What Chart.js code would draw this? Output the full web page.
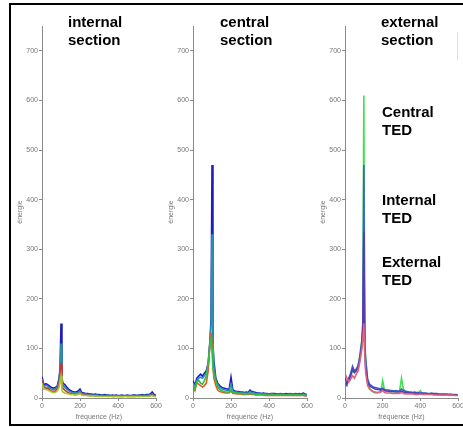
<!DOCTYPE html>
<html>
<head>
<meta charset="utf-8">
<script src="https://cdn.jsdelivr.net/npm/chart.js@4/dist/chart.umd.min.js"></script>
<style>
  html, body { margin:0; padding:0; background:#fff; width:463px; height:427px; overflow:hidden; }
  #frame { position:absolute; left:9px; top:3px; width:470px; height:419px; border:2px solid #000; }
  canvas { position:absolute; top:0; }
  .lbl { position:absolute; font-family:"Liberation Sans", Arial, sans-serif; font-weight:bold;
         font-size:15px; line-height:18px; color:#000; white-space:nowrap; }
  #ghost { position:absolute; left:457px; top:32px; width:0; height:28px; border-left:1px solid #ddd; }
</style>
</head>
<body>
<div id="frame"></div>
<div id="ghost"></div>
<canvas id="c1" width="152" height="424" style="left:12px"></canvas>
<canvas id="c2" width="152" height="424" style="left:163px"></canvas>
<canvas id="c3" width="151" height="424" style="left:315px"></canvas>
<div class="lbl" style="left:68px; top:13px">internal<br>section</div>
<div class="lbl" style="left:220px; top:13px">central<br>section</div>
<div class="lbl" style="left:381px; top:13px">external<br>section</div>
<div class="lbl" style="left:382px; top:103px">Central<br>TED</div>
<div class="lbl" style="left:382px; top:191px">Internal<br>TED</div>
<div class="lbl" style="left:382px; top:253px">External<br>TED</div>
<script>
// frequency axis (Hz)
const freq = [0,10,20,30,40,50,60,70,80,90,95,100,105,110,
  120,130,140,150,160,170,180,190,200,210,
  220,230,240,250,260,270,280,290,300,310,
  320,330,340,350,360,370,380,390,400,410,
  420,430,440,450,460,470,480,490,500,510,
  520,530,540,550,560,570,580,590,600];

const yTicks = [0,100,200,300,400,500,600,700];
const xTicks = [0,200,400,600];

// internal section
const intBlue = [43,26,29,27,24,21,20,21,24,40,60,150,40,30,
  27,22,18,15,13,12,12,14,18,11,
  10,9,9,8,8,7,8,7,7,6,
  6,7,6,6,5,6,5,6,5,5,
  6,5,5,6,5,5,6,6,5,6,
  6,7,6,7,7,8,12,7,5];
const intTeal = [38,24,25,24,20,18,17,18,22,36,55,110,35,26,
  22,18,15,12,11,10,10,11,14,9,
  8,8,7,7,6,6,6,6,5,5,
  5,5,5,4,5,4,4,5,4,4,
  4,4,5,4,4,5,4,4,5,5,
  5,5,6,5,6,6,8,5,4];
const intRed = [35,22,20,20,16,14,13,14,18,28,45,70,28,20,
  16,13,10,9,8,8,7,8,10,7,
  6,6,5,5,5,5,4,4,4,4,
  4,4,4,3,4,3,3,4,3,3,
  3,3,4,3,3,3,3,3,4,3,
  4,4,4,4,4,5,6,4,3];
const intGreen = [30,18,17,16,14,12,11,11,14,22,35,45,16,12,
  10,9,8,7,7,6,6,7,9,6,
  5,5,5,4,4,4,4,4,3,3,
  3,3,3,3,3,3,3,3,3,3,
  3,3,3,3,3,3,3,3,3,3,
  3,3,3,3,3,4,5,3,3];

// central section
const cenBlue = [35,25,40,44,48,44,50,55,70,120,160,470,110,75,
  40,30,25,22,20,19,18,17,42,16,
  14,13,13,12,12,11,12,11,16,13,
  12,11,10,10,9,10,9,9,8,9,
  9,9,8,8,9,8,8,9,8,9,
  8,8,9,8,9,8,10,8,7];
const cenTeal = [30,22,35,40,42,40,45,50,65,115,150,330,100,65,
  35,27,22,19,17,16,15,15,28,14,
  12,12,11,11,10,10,10,10,13,11,
  10,9,9,9,8,8,8,8,7,8,
  8,7,7,7,8,7,7,7,7,8,
  7,7,8,7,8,7,8,7,6];
const cenRed = [22,15,30,28,25,22,25,30,55,115,132,110,70,40,
  25,16,13,12,11,10,10,10,14,9,
  9,8,8,8,7,7,7,7,8,7,
  7,6,6,6,6,6,5,5,5,5,
  5,5,5,5,5,5,5,5,5,5,
  5,5,5,5,5,5,5,4,4];
const cenGreen = [28,18,32,36,30,28,35,45,70,110,120,100,60,45,
  36,22,18,15,13,12,12,12,18,11,
  10,10,9,9,9,8,8,8,10,8,
  8,7,7,7,7,7,6,6,6,6,
  6,6,6,6,6,6,6,6,6,6,
  6,6,6,6,6,6,6,5,5];

// external section
const extGreen = [35,28,38,45,55,50,55,65,90,120,160,610,110,80,
  35,20,15,12,10,10,12,14,35,15,
  14,13,12,13,12,13,14,15,40,18,
  14,12,11,10,10,10,9,10,15,9,
  8,8,8,7,8,7,7,7,7,6,
  6,6,7,6,6,6,6,6,6];
const extBlue = [30,25,40,50,64,55,58,66,85,115,150,470,105,75,
  38,28,25,22,21,20,19,18,20,17,
  16,16,15,15,14,15,14,14,18,15,
  13,13,12,12,11,12,11,11,10,10,
  10,10,9,9,10,9,9,9,8,8,
  8,8,8,7,8,7,7,7,6];
const extPurple = [40,30,35,45,58,52,55,62,80,110,140,335,100,60,
  32,25,22,20,18,17,17,16,17,15,
  14,14,13,13,13,12,12,12,14,12,
  11,11,10,10,10,10,9,9,9,9,
  9,8,8,8,8,8,8,7,7,7,
  7,7,7,7,6,6,6,6,6];
const extRed = [50,40,32,38,45,40,48,55,75,100,120,150,85,50,
  25,18,15,13,12,11,11,12,15,11,
  10,10,10,9,9,9,9,9,11,9,
  8,8,8,8,8,7,7,7,8,7,
  7,7,7,7,7,6,6,6,6,6,
  6,6,6,6,6,6,5,5,5];

const tickFont = { family: "'Liberation Sans', Arial, sans-serif", size: 7 };
const axisGray = '#8a8a8a';

// series listed from bottom layer to top layer; Chart.js paints dataset 0 last (on top)
function makeChart(id, series) {
  const datasets = series.slice().reverse().map(s => ({
    data: freq.map((f, i) => ({ x: f, y: s.values[i] })),
    borderColor: s.color,
    borderWidth: 1.6,
    pointRadius: 0,
    tension: 0,
    fill: false
  }));
  return new Chart(document.getElementById(id), {
    type: 'line',
    data: { datasets },
    options: {
      responsive: false,
      animation: false,
      devicePixelRatio: 1,
      layout: { padding: { top: 26, right: 8, bottom: 2, left: 0 } },
      plugins: { legend: { display: false }, tooltip: { enabled: false } },
      scales: {
        x: {
          type: 'linear', min: 0, max: 600,
          afterBuildTicks: sc => { sc.ticks = xTicks.map(v => ({ value: v })); },
          afterFit: sc => { sc.height = 24; },
          grid: { drawOnChartArea: false, tickLength: 3, tickColor: axisGray },
          border: { display: true, color: axisGray, width: 1 },
          ticks: { font: tickFont, color: '#777', padding: 1, maxRotation: 0 },
          title: { display: true, text: 'fréquence (Hz)', font: tickFont, color: '#777', padding: { top: 0, bottom: 1 } }
        },
        y: {
          type: 'linear', min: 0, max: 750,
          afterBuildTicks: sc => { sc.ticks = yTicks.map(v => ({ value: v })); },
          afterFit: sc => { sc.width = 30; },
          grid: { drawOnChartArea: false, tickLength: 3, tickColor: axisGray },
          border: { display: true, color: axisGray, width: 1 },
          ticks: { font: tickFont, color: '#777', padding: 1 },
          title: { display: true, text: 'énergie', font: tickFont, color: '#777', padding: { top: 4, bottom: 0 } }
        }
      }
    }
  });
}

makeChart('c1', [
  { values: intBlue, color: '#1c1cb8' },
  { values: intTeal, color: '#2a8ca8' },
  { values: intRed, color: '#c83838' },
  { values: intGreen, color: '#a8c830' }
]);
makeChart('c2', [
  { values: cenBlue, color: '#1c1cc0' },
  { values: cenTeal, color: '#2a90b0' },
  { values: cenRed, color: '#e05a28' },
  { values: cenGreen, color: '#30c040' }
]);
makeChart('c3', [
  { values: extGreen, color: '#40e050' },
  { values: extBlue, color: '#3a60d0' },
  { values: extPurple, color: '#5a3aa8' },
  { values: extRed, color: '#e06080' }
]);
</script>
</body>
</html>
